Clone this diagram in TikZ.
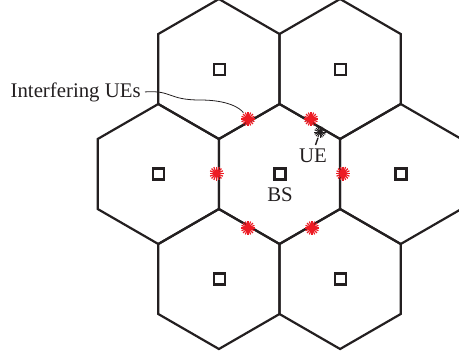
\documentclass[tikz,border=0pt]{standalone}
\usepackage{fontspec}
\setmainfont{Liberation Serif}
\definecolor{uered}{RGB}{237,28,36}
\definecolor{ink}{RGB}{35,31,32}
\tikzset{
  hexline/.style={draw=ink, line width=1.1pt, line join=miter},
  bsbox/.style={draw=ink, line width=1.25pt, minimum size=5.4pt, inner sep=0pt},
  lbl/.style={font=\fontsize{10.4pt}{12pt}\selectfont, text=ink, inner sep=0pt},
  redue/.style={circle, minimum size=7.4pt, inner sep=0pt,
    path picture={\foreach \a in {0,22.5,...,157.5}
      \draw[uered, line width=0.6pt] (path picture bounding box.center) ++(\a:3.5pt) -- ++(\a+180:7pt);
      \fill[uered] (path picture bounding box.center) circle (1.9pt);}},
  blackue/.style={circle, minimum size=6pt, inner sep=0pt,
    path picture={\foreach \a in {0,22.5,...,157.5}
      \draw[ink, line width=0.5pt] (path picture bounding box.center) ++(\a:2.9pt) -- ++(\a+180:5.8pt);
      \fill[ink] (path picture bounding box.center) circle (1.3pt);}},
}
\newcommand\hexcell[2]{\draw[hexline] (#1,#2) +(90:70) -- +(30:70) -- +(-30:70) -- +(-90:70) -- +(-150:70) -- +(150:70) -- cycle;}
\begin{document}
\begin{tikzpicture}[x=0.5pt,y=-0.5pt]
\useasboundingbox (0,0) rectangle (459,360);
\begin{scope}
\clip (0,0) rectangle (459,360);
\hexcell{279.5}{174}
\hexcell{218.9}{69}
\hexcell{340.1}{69}
\hexcell{158.3}{174}
\hexcell{400.7}{174}
\hexcell{218.9}{279}
\hexcell{340.1}{279}
\end{scope}
% base stations
\node[bsbox] (bs0) at (280,174) {};
\node[bsbox] (bs1) at (219.5,69.5) {};
\node[bsbox] (bs2) at (340.5,69.5) {};
\node[bsbox] (bs3) at (158.5,174) {};
\node[bsbox] (bs4) at (401,174) {};
\node[bsbox] (bs5) at (219.5,279) {};
\node[bsbox] (bs6) at (340.5,279) {};
% interfering UEs
\node[redue] (s1) at (248,119) {};
\node[redue] (s2) at (311,119) {};
\node[redue] (s3) at (216.5,173.5) {};
\node[redue] (s4) at (343,173.5) {};
\node[redue] (s5) at (248,228) {};
\node[redue] (s6) at (312,228) {};
% served UE
\node[blackue] (ue) at (320,132) {};
% labels
\node[lbl, anchor=base] (bslbl) at (280,201) {BS};
\node[lbl, anchor=base] (uelbl) at (313,162) {UE};
\node[lbl, anchor=base east, inner sep=2pt] (iue) at (145,97) {Interfering UEs};
% connectors
\draw[ink, line width=0.4pt] (iue.east) .. controls (172,90) and (168,100) .. (200,100)
  .. controls (228,100) and (240,108) .. (s1);
\draw[ink, line width=0.7pt] (315.5,145) -- (ue);
\end{tikzpicture}
\end{document}
